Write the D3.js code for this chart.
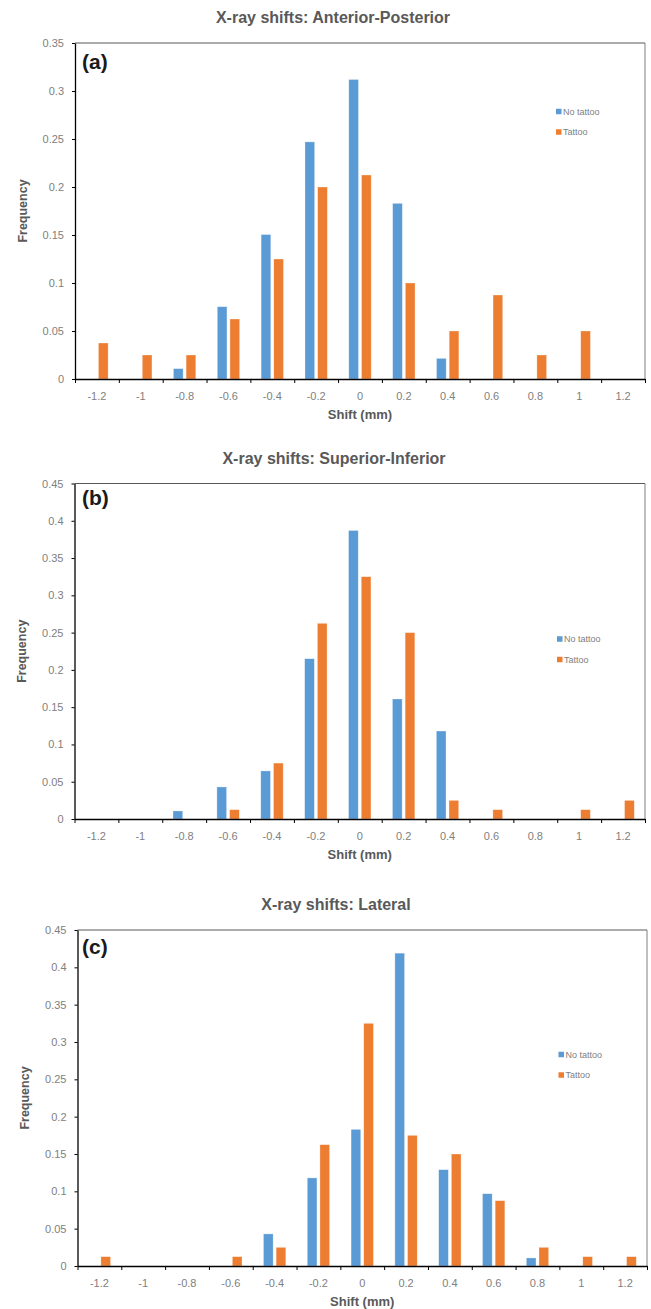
<!DOCTYPE html>
<html>
<head>
<meta charset="utf-8">
<script src="https://cdn.jsdelivr.net/npm/d3@7"></script>
<style>
  body { margin: 0; background: #fff; }
  svg text { font-family: "Liberation Sans", Arial, sans-serif; }
</style>
</head>
<body>
<div id="chart"></div>
<script>
// shift bins (mm), shared by all three panels
const categories = ["-1.2", "-1", "-0.8", "-0.6", "-0.4", "-0.2", "0", "0.2", "0.4", "0.6", "0.8", "1", "1.2"];
const seriesNames = ["No tattoo", "Tattoo"];

// (a) Anterior-Posterior
const apNoTattoo = [0, 0, 0.0108, 0.0753, 0.1505, 0.247, 0.312, 0.183, 0.0215, 0, 0, 0, 0];
const apTattoo = [0.0375, 0.025, 0.025, 0.0625, 0.125, 0.2, 0.2125, 0.1, 0.05, 0.0875, 0.025, 0.05, 0];
// (b) Superior-Inferior
const siNoTattoo = [0, 0, 0.0108, 0.043, 0.0645, 0.215, 0.387, 0.161, 0.118, 0, 0, 0, 0];
const siTattoo = [0, 0, 0, 0.0125, 0.075, 0.2625, 0.325, 0.25, 0.025, 0.0125, 0, 0.0125, 0.025];
// (c) Lateral
const latNoTattoo = [0, 0, 0, 0, 0.043, 0.118, 0.183, 0.419, 0.129, 0.0968, 0.0108, 0, 0];
const latTattoo = [0.0125, 0, 0, 0.0125, 0.025, 0.1625, 0.325, 0.175, 0.15, 0.0875, 0.025, 0.0125, 0.0125];

const yTicksA = [0, 0.05, 0.1, 0.15, 0.2, 0.25, 0.3, 0.35];
const yTicksBC = [0, 0.05, 0.1, 0.15, 0.2, 0.25, 0.3, 0.35, 0.4, 0.45];

const colors = ["#5b9bd5", "#ed7d31"];

const svg = d3.select("#chart")
  .append("svg")
  .attr("width", 651)
  .attr("height", 1309);

const panels = [
  { title: "X-ray shifts: Anterior-Posterior", label: "(a)", series: [apNoTattoo, apTattoo], ticks: yTicksA,
    left: 75, right: 645, top: 43, bottom: 379, titleY: 22.5, titleX: 333, labelY: 68.5, legendX: 556, legendY: 111.5 },
  { title: "X-ray shifts: Superior-Inferior", label: "(b)", series: [siNoTattoo, siTattoo], ticks: yTicksBC,
    left: 74.5, right: 645, top: 483.5, bottom: 819, titleY: 463.5, titleX: 334, labelY: 504.5, legendX: 557, legendY: 639 },
  { title: "X-ray shifts: Lateral", label: "(c)", series: [latNoTattoo, latTattoo], ticks: yTicksBC,
    left: 77.5, right: 647, top: 930, bottom: 1266, titleY: 909.5, titleX: 336, labelY: 954, legendX: 558.5, legendY: 1054.5 }
];

panels.forEach(p => {
  const g = svg.append("g");

  const x = d3.scaleBand()
    .domain(categories)
    .range([p.left, p.right]);

  const x1 = d3.scaleBand()
    .domain(seriesNames)
    .range([0, x.bandwidth()])
    .paddingInner(0.236)
    .paddingOuter(0.846);

  const y = d3.scaleLinear()
    .domain([0, d3.max(p.ticks)])
    .range([p.bottom, p.top]);

  // frame: top and right sides
  g.append("line")
    .attr("x1", p.left).attr("x2", p.right)
    .attr("y1", p.top).attr("y2", p.top)
    .attr("stroke", "#595959").attr("stroke-width", 1);
  g.append("line")
    .attr("x1", p.right).attr("x2", p.right)
    .attr("y1", p.top).attr("y2", p.bottom)
    .attr("stroke", "#7f7f7f").attr("stroke-width", 1);

  // bars
  p.series.forEach((vals, si) => {
    g.append("g")
      .selectAll("rect")
      .data(vals.map((v, i) => ({ cat: categories[i], v: v })).filter(d => d.v > 0))
      .join("rect")
      .attr("x", d => x(d.cat) + x1(seriesNames[si]))
      .attr("y", d => y(d.v))
      .attr("width", x1.bandwidth())
      .attr("height", d => y(0) - y(d.v))
      .attr("fill", colors[si])
      .attr("stroke", "#fff")
      .attr("stroke-opacity", 0.5)
      .attr("stroke-width", 0.6);
  });

  // y axis
  const yAxis = g.append("g")
    .attr("transform", "translate(" + p.left + ",0)")
    .call(d3.axisLeft(y)
      .tickValues(p.ticks)
      .tickFormat(d => String(+d.toFixed(2)))
      .tickSize(3)
      .tickSizeOuter(0)
      .tickPadding(8));
  yAxis.select(".domain").attr("stroke", "#000").attr("stroke-width", 1.3);
  yAxis.selectAll(".tick line").attr("stroke", "#000");
  yAxis.selectAll("text")
    .attr("fill", "#808080")
    .style("font-size", "11px");

  // x axis: ticks on bin edges, labels on bin centres
  const edges = d3.scaleLinear().domain([0, categories.length]).range([p.left, p.right]);
  const xEdge = g.append("g")
    .attr("transform", "translate(0," + p.bottom + ")")
    .call(d3.axisBottom(edges)
      .tickValues(d3.range(categories.length + 1))
      .tickFormat("")
      .tickSize(4)
      .tickSizeOuter(0));
  xEdge.select(".domain").attr("stroke", "#000").attr("stroke-width", 1.6);
  xEdge.selectAll(".tick line").attr("stroke", "#000");

  const xAxis = g.append("g")
    .attr("transform", "translate(0," + p.bottom + ")")
    .call(d3.axisBottom(x).tickSize(0).tickPadding(13));
  xAxis.select(".domain").remove();
  xAxis.selectAll("text")
    .attr("fill", "#808080")
    .style("font-size", "11px");

  // titles
  g.append("text")
    .attr("x", p.titleX)
    .attr("y", p.titleY)
    .attr("text-anchor", "middle")
    .attr("fill", "#595959")
    .style("font-size", "16px")
    .style("font-weight", "bold")
    .text(p.title);

  g.append("text")
    .attr("x", (p.left + p.right) / 2)
    .attr("y", p.bottom + 39.5)
    .attr("text-anchor", "middle")
    .attr("fill", "#595959")
    .style("font-size", "13px")
    .style("font-weight", "bold")
    .text("Shift (mm)");

  g.append("text")
    .attr("transform", "translate(" + (p.left - 48.5) + "," + ((p.top + p.bottom) / 2) + ")rotate(-90)")
    .attr("text-anchor", "middle")
    .attr("fill", "#595959")
    .style("font-size", "12.5px")
    .style("font-weight", "bold")
    .text("Frequency");

  g.append("text")
    .attr("x", 82)
    .attr("y", p.labelY)
    .attr("fill", "#1a1a1a")
    .style("font-size", "21px")
    .style("font-weight", "bold")
    .text(p.label);

  // legend
  seriesNames.forEach((name, si) => {
    const ly = p.legendY + si * 20.5;
    g.append("rect")
      .attr("x", p.legendX)
      .attr("y", ly - 2.75)
      .attr("width", 5.5)
      .attr("height", 5.5)
      .attr("fill", colors[si]);
    g.append("text")
      .attr("x", p.legendX + 7)
      .attr("y", ly + 3.2)
      .attr("fill", "#808080")
      .style("font-size", "9px")
      .text(name);
  });
});
</script>
</body>
</html>
